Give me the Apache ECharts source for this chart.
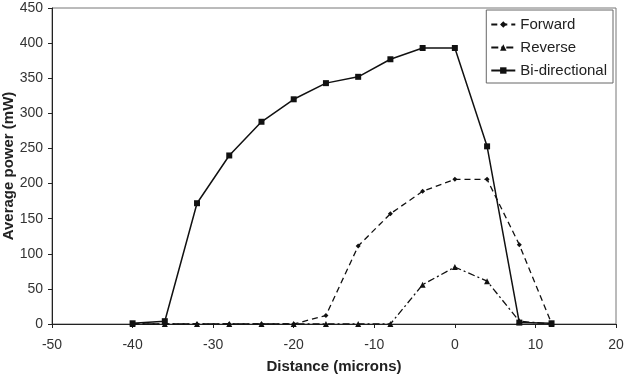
<!DOCTYPE html>
<html><head><meta charset="utf-8">
<script src="https://cdn.jsdelivr.net/npm/echarts@6/dist/echarts.min.js"></script>
<style>html,body{margin:0;padding:0;background:#fff}#c{width:630px;height:376px}</style>
</head><body><div id="c"></div>
<script>
const distances = [-40, -36, -32, -28, -24, -20, -16, -12, -8, -4, 0, 4, 8, 12];
const forward = [0, 0, 0, 0, 0, 0, 12, 111, 157, 189, 206, 206, 113, 1];
const reverse = [0, 0, 0, 0, 0, 0, 0, 0, 0, 56, 81, 61, 4, 0];
const bidirectional = [1, 4, 172, 240, 288, 320, 343, 352, 377, 393, 393, 253, 2, 1];
const seriesNames = ['Forward', 'Reverse', 'Bi-directional'];

const pairs = arr => distances.map((d, i) => [d, arr[i]]);
const font = 'Liberation Sans, Arial, sans-serif';
const chart = echarts.init(document.getElementById('c'));
chart.setOption({
  animation: false,
  backgroundColor: '#fff',
  grid: {left: 52, right: 14, top: 8, bottom: 52, show: true, borderColor: '#777', borderWidth: 1,
         containLabel: false, outerBoundsMode: 'none'},
  legend: {
    data: seriesNames, orient: 'vertical', right: 17, top: 10,
    backgroundColor: '#fff', borderColor: '#666', borderWidth: 1,
    padding: [7, 6, 5, 4], itemGap: 8, itemWidth: 24, itemHeight: 8,
    textStyle: {fontFamily: font, fontSize: 15, color: '#222'}
  },
  xAxis: {
    type: 'value', min: -50, max: 20, interval: 10,
    name: 'Distance (microns)', nameLocation: 'middle', nameGap: 35, nameMoveOverlap: false,
    nameTextStyle: {fontFamily: font, fontSize: 15, fontWeight: 'bold', color: '#222'},
    axisLine: {onZero: false, lineStyle: {color: '#222', width: 1}},
    axisTick: {show: true, length: 4, lineStyle: {color: '#222'}},
    axisLabel: {fontFamily: font, fontSize: 14, color: '#333', margin: 14},
    splitLine: {show: false}
  },
  yAxis: {
    type: 'value', min: 0, max: 450, interval: 50,
    name: 'Average power (mW)', nameLocation: 'middle', nameGap: 36, nameMoveOverlap: false,
    nameTextStyle: {fontFamily: font, fontSize: 15, fontWeight: 'bold', color: '#222'},
    axisLine: {show: true, onZero: false, lineStyle: {color: '#222', width: 1}},
    axisTick: {show: true, length: 4, lineStyle: {color: '#222'}},
    axisLabel: {fontFamily: font, fontSize: 14, color: '#333', margin: 9},
    splitLine: {show: false}
  },
  series: [
    {name: 'Forward', type: 'line', data: pairs(forward), symbol: 'diamond', symbolSize: 5,
     itemStyle: {color: '#111'}, lineStyle: {color: '#111', width: 1.3, type: [6, 4]}},
    {name: 'Reverse', type: 'line', data: pairs(reverse), symbol: 'triangle', symbolSize: 6,
     itemStyle: {color: '#111'}, lineStyle: {color: '#111', width: 1.3, type: [7, 3, 2, 3]}},
    {name: 'Bi-directional', type: 'line', data: pairs(bidirectional), symbol: 'rect', symbolSize: 6,
     itemStyle: {color: '#111'}, lineStyle: {color: '#111', width: 1.5}}
  ]
});
</script></body></html>
